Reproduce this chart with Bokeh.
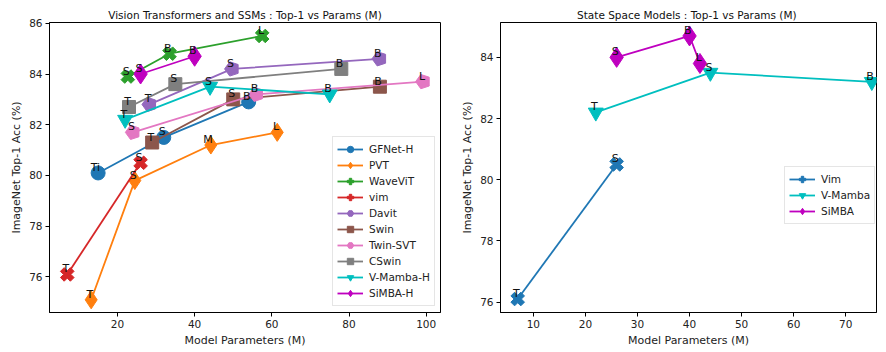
import numpy as np
from bokeh.plotting import figure
from bokeh.layouts import row
from bokeh.models import (FixedTicker, Legend, LegendItem, ColumnDataSource, Range1d)
from bokeh.embed import file_html
from bokeh.resources import INLINE
from bokeh.core.properties import value

try:
    from bokeh.models import Ngon
    HAVE_NGON = True
except Exception:
    HAVE_NGON = False

FONT = "DejaVu Sans"

# ---------------- data: left panel ----------------
gfnet_x = [15, 32, 54]
gfnet_y = [80.1, 81.5, 82.9]
gfnet_t = ["Ti", "S", "B"]

pvt_x = [13.2, 24.5, 44.2, 61.4]
pvt_y = [75.1, 79.8, 81.2, 81.7]
pvt_t = ["T", "S", "M", "L"]

wave_x = [22.7, 33.5, 57.5]
wave_y = [83.9, 84.8, 85.5]
wave_t = ["S", "B", "L"]

vim_x = [7, 26]
vim_y = [76.1, 80.5]
vim_t = ["T", "S"]

davit_x = [28.3, 49.7, 87.9]
davit_y = [82.8, 84.2, 84.6]
davit_t = ["T", "S", "B"]

swin_x = [29, 50, 88]
swin_y = [81.3, 83.0, 83.5]
swin_t = ["T", "S", "B"]

twins_x = [24, 56, 99.2]
twins_y = [81.7, 83.2, 83.7]
twins_t = ["S", "B", "L"]

cswin_x = [23, 35, 78]
cswin_y = [82.7, 83.6, 84.2]
cswin_t = ["T", "S", "B"]

vmamba_x = [22, 44, 75]
vmamba_y = [82.2, 83.5, 83.2]
vmamba_t = ["T", "S", "B"]

simbah_x = [26, 40]
simbah_y = [84.0, 84.7]
simbah_t = ["S", "B"]

# ---------------- data: right panel ----------------
r_vim_x = [7, 26]
r_vim_y = [76.1, 80.5]
r_vim_t = ["T", "S"]

r_vmamba_x = [22, 44, 75]
r_vmamba_y = [82.2, 83.5, 83.2]
r_vmamba_t = ["T", "S", "B"]

r_simba_x = [26, 40, 42]
r_simba_y = [84.0, 84.7, 83.8]
r_simba_t = ["S", "B", "L"]

left_xticks = [20, 40, 60, 80, 100]
left_yticks = [76, 78, 80, 82, 84, 86]
right_xticks = [10, 20, 30, 40, 50, 60, 70]
right_yticks = [76, 78, 80, 82, 84]

C_BLUE = "#1f77b4"; C_ORANGE = "#ff7f0e"; C_GREEN = "#2ca02c"; C_RED = "#d62728"
C_PURPLE = "#9467bd"; C_BROWN = "#8c564b"; C_PINK = "#e377c2"; C_GRAY = "#7f7f7f"
C_CYAN = "#00bfbf"; C_MAG = "#bf00bf"


def make_fig(title, width, height, xr, yr, xticks, yticks, mb_left, mb_right, mb_top):
    p = figure(width=width, height=height, output_backend="svg", toolbar_location=None,
               x_range=Range1d(*xr), y_range=Range1d(*yr),
               min_border_left=mb_left, min_border_right=mb_right,
               min_border_top=mb_top, min_border_bottom=40)
    p.title.text = title
    p.title.align = "center"
    p.title.text_font = FONT
    p.title.text_font_size = "10.5px"
    p.title.text_font_style = "normal"
    p.title.text_color = "#111111"
    p.title.standoff = 4
    p.xgrid.visible = False
    p.ygrid.visible = False
    p.outline_line_color = "black"
    p.outline_line_alpha = 1
    p.outline_line_width = 1
    p.background_fill_color = "white"
    p.border_fill_color = "white"
    p.xaxis.ticker = FixedTicker(ticks=xticks)
    p.yaxis.ticker = FixedTicker(ticks=yticks)
    p.xaxis.axis_label = "Model Parameters (M)"
    p.yaxis.axis_label = "ImageNet Top-1 Acc (%)"
    for ax in (p.xaxis[0], p.yaxis[0]):
        ax.minor_tick_line_color = None
        ax.major_tick_in = 0
        ax.major_tick_out = 4
        ax.major_tick_line_color = "black"
        ax.axis_line_color = "black"
        ax.major_label_text_font = FONT
        ax.major_label_text_font_size = "10.5px"
        ax.major_label_text_color = "#222222"
        ax.major_label_standoff = 3
        ax.axis_label_text_font = FONT
        ax.axis_label_text_font_size = "11px"
        ax.axis_label_text_font_style = "normal"
        ax.axis_label_text_color = "#222222"
        ax.axis_label_standoff = 3
    return p


def series(p, xs, ys, labels, color, marker, size, name, texts, angle=0.0):
    src = ColumnDataSource(dict(x=xs, y=ys, t=labels))
    ln = p.line("x", "y", source=src, line_color=color, line_width=1.8)
    if marker == "pentagon" and HAVE_NGON:
        g = Ngon(x="x", y="y", radius=size / 2.0, radius_units="screen", n=5,
                 angle=np.pi / 2, fill_color=color, line_color=color)
        p.add_glyph(src, g)
        leg = p.scatter("x", "y", source=src, marker="hex", size=0,
                        fill_color=color, line_color=color)
        rends = [ln, leg]
    else:
        mk = "hex" if marker == "pentagon" else marker
        sc = p.scatter("x", "y", source=src, marker=mk, size=size, angle=angle,
                       fill_color=color, line_color=color)
        rends = [ln, sc]
    texts.append(src)
    return LegendItem(label=name, renderers=rends)


def add_texts(p, srcs):
    for s in srcs:
        p.text("x", "y", text="t", source=s, text_align="right", text_baseline="bottom",
               text_font=value(FONT), text_font_size="11px", text_color="#111111",
               x_offset=2, y_offset=1)


def add_legend(p, items, loc):
    lg = Legend(items=items, location=loc)
    lg.label_text_font = FONT
    lg.label_text_font_size = "10.5px"
    lg.label_text_color = "#222222"
    lg.glyph_width = 26
    lg.glyph_height = 16
    lg.label_height = 16
    lg.spacing = 0
    lg.padding = 4
    lg.margin = 0
    lg.label_standoff = 6
    lg.border_line_color = "#cccccc"
    lg.border_line_width = 1
    lg.background_fill_alpha = 0.8
    p.add_layout(lg)


# ---------------- left figure ----------------
p1 = make_fig("Vision Transformers and SSMs : Top-1 vs Params (M)", 458, 352,
              (2.4, 103.7), (74.6, 86.03), left_xticks, left_yticks, 49, 18, 22)
t1 = []
items1 = [
    series(p1, gfnet_x, gfnet_y, gfnet_t, C_BLUE, "circle", 14, "GFNet-H", t1),
    series(p1, pvt_x, pvt_y, pvt_t, C_ORANGE, "diamond", 18, "PVT", t1),
    series(p1, wave_x, wave_y, wave_t, C_GREEN, "plus", 14, "WaveViT", t1, angle=np.pi / 4),
    series(p1, vim_x, vim_y, vim_t, C_RED, "plus", 14, "vim", t1, angle=np.pi / 4),
    series(p1, davit_x, davit_y, davit_t, C_PURPLE, "pentagon", 15, "Davit", t1),
    series(p1, swin_x, swin_y, swin_t, C_BROWN, "square", 13, "Swin", t1),
    series(p1, twins_x, twins_y, twins_t, C_PINK, "pentagon", 15, "Twin-SVT", t1),
    series(p1, cswin_x, cswin_y, cswin_t, C_GRAY, "square", 13, "CSwin", t1),
    series(p1, vmamba_x, vmamba_y, vmamba_t, C_CYAN, "inverted_triangle", 15, "V-Mamba-H", t1),
    series(p1, simbah_x, simbah_y, simbah_t, C_MAG, "diamond", 20, "SiMBA-H", t1),
]
add_texts(p1, t1)
add_legend(p1, items1, (283, 6))

# ---------------- right figure ----------------
p2 = make_fig("State Space  Models : Top-1 vs Params (M)", 420, 352,
              (3.7, 75.9), (75.66, 85.14), right_xticks, right_yticks, 39, 2, 20)
t2 = []
items2 = [
    series(p2, r_vim_x, r_vim_y, r_vim_t, C_BLUE, "plus", 14, "Vim", t2, angle=np.pi / 4),
    series(p2, r_vmamba_x, r_vmamba_y, r_vmamba_t, C_CYAN, "inverted_triangle", 15, "V-Mamba", t2),
    series(p2, r_simba_x, r_simba_y, r_simba_t, C_MAG, "diamond", 20, "SiMBA", t2),
]
add_texts(p2, t2)
add_legend(p2, items2, (284, 88))

layout = row(p1, p2)
open("out.html", "w").write(file_html(layout, INLINE))
